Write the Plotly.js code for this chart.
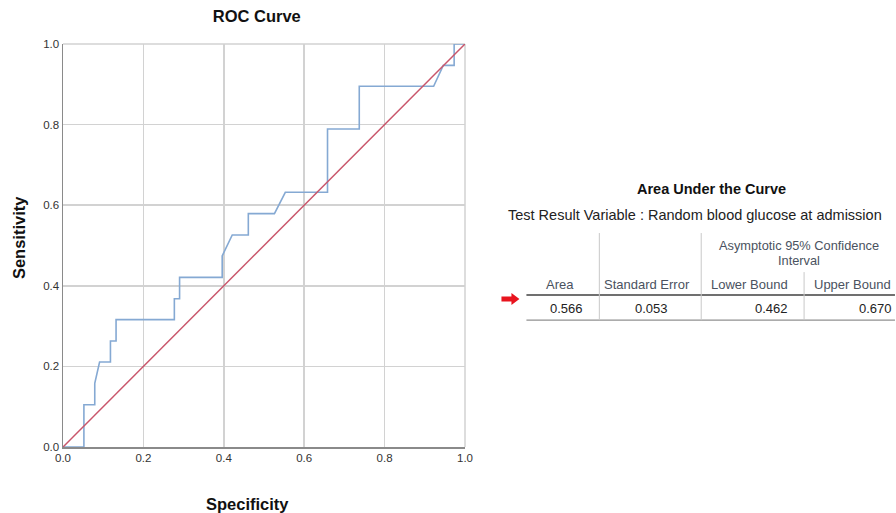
<!DOCTYPE html>
<html>
<head>
<meta charset="utf-8">
<script src="https://cdn.plot.ly/plotly-3.0.1.min.js"></script>
<style>html,body{margin:0;padding:0;background:#fff;}#chart{width:896px;height:513px;}</style>
</head>
<body>
<div id="chart"></div>
<script>
// ROC curve data (specificity axis as labelled, sensitivity)
const specificity = [0, 0.052, 0.052, 0.079, 0.079, 0.091, 0.118, 0.118, 0.132, 0.132, 0.277, 0.277, 0.29, 0.29, 0.396, 0.396, 0.421, 0.461, 0.461, 0.526, 0.553, 0.658, 0.658, 0.737, 0.737, 0.922, 0.946, 0.973, 0.973, 1.0];
const sensitivity = [0, 0, 0.105, 0.105, 0.158, 0.211, 0.211, 0.263, 0.263, 0.316, 0.316, 0.368, 0.368, 0.421, 0.421, 0.474, 0.526, 0.526, 0.579, 0.579, 0.632, 0.632, 0.789, 0.789, 0.895, 0.895, 0.947, 0.947, 1.0, 1.0];
const refX = [0, 1];
const refY = [0, 1];
const tickVals = [0, 0.2, 0.4, 0.6, 0.8, 1.0];
const tickText = ["0.0", "0.2", "0.4", "0.6", "0.8", "1.0"];

// AUC table
const tableTitle = "Area Under the Curve";
const tableSubtitle = "Test Result Variable : Random blood glucose at admission";
const groupHeader = ["Asymptotic 95% Confidence", "Interval"];
const colHeaders = ["Area", "Standard Error", "Lower Bound", "Upper Bound"];
const colValues = ["0.566", "0.053", "0.462", "0.670"];

// pixel -> paper helpers
const L = 63, R = 465.5, T = 44.2, B = 446.7;
const px = x => (x - L) / (R - L);
const py = y => (B - y) / (B - T);

const FONT = "Liberation Sans, Arial, sans-serif";
const annotations = [];
const shapes = [];

// axis titles
annotations.push({text: "<b>Sensitivity</b>", xref: "paper", yref: "paper", x: px(19), y: py(238), textangle: -90, showarrow: false, font: {family: FONT, size: 16.5, color: "#111"}, xanchor: "center", yanchor: "middle"});
annotations.push({text: "<b>Specificity</b>", xref: "paper", yref: "paper", x: px(248), y: py(504), showarrow: false, font: {family: FONT, size: 16.5, color: "#111"}, xanchor: "center", yanchor: "middle"});

// table text
annotations.push({text: "<b>" + tableTitle + "</b>", xref: "paper", yref: "paper", x: px(712), y: py(189), showarrow: false, font: {family: FONT, size: 14.5, color: "#111"}, xanchor: "center", yanchor: "middle"});
annotations.push({text: tableSubtitle, xref: "paper", yref: "paper", x: px(696), y: py(215), showarrow: false, font: {family: FONT, size: 14.5, color: "#222"}, xanchor: "center", yanchor: "middle"});
annotations.push({text: groupHeader[0], xref: "paper", yref: "paper", x: px(800), y: py(245), showarrow: false, font: {family: FONT, size: 12.8, color: "#4a5260"}, xanchor: "center", yanchor: "middle"});
annotations.push({text: groupHeader[1], xref: "paper", yref: "paper", x: px(800), y: py(260), showarrow: false, font: {family: FONT, size: 12.8, color: "#4a5260"}, xanchor: "center", yanchor: "middle"});
const headerX = [561, 648, 750, 853];
colHeaders.forEach((h, i) => {
  annotations.push({text: h, xref: "paper", yref: "paper", x: px(headerX[i]), y: py(284), showarrow: false, font: {family: FONT, size: 13, color: "#4a5260"}, xanchor: "center", yanchor: "middle"});
});
const valX = [586, 652, 791, 895];
const valAnchor = ["right", "center", "right", "right"];
colValues.forEach((v, i) => {
  annotations.push({text: v, xref: "paper", yref: "paper", x: px(valX[i]), y: py(308), showarrow: false, font: {family: FONT, size: 13, color: "#222"}, xanchor: valAnchor[i], yanchor: "middle"});
});

// table lines
shapes.push({type: "line", xref: "paper", yref: "paper", x0: px(527), x1: px(896), y0: py(295), y1: py(295), line: {color: "#707070", width: 2}});
shapes.push({type: "line", xref: "paper", yref: "paper", x0: px(527), x1: px(896), y0: py(320), y1: py(320), line: {color: "#909090", width: 1.2}});
shapes.push({type: "line", xref: "paper", yref: "paper", x0: px(600), x1: px(600), y0: py(233), y1: py(320), line: {color: "#c8c8c8", width: 1}});
shapes.push({type: "line", xref: "paper", yref: "paper", x0: px(702), x1: px(702), y0: py(233), y1: py(320), line: {color: "#c8c8c8", width: 1}});
shapes.push({type: "line", xref: "paper", yref: "paper", x0: px(805), x1: px(805), y0: py(272), y1: py(320), line: {color: "#c8c8c8", width: 1}});
// red arrow
const ap = [[502, 296.5], [512, 296.5], [512, 293], [520, 299], [512, 305], [512, 301.5], [502, 301.5]];
shapes.push({type: "path", xref: "paper", yref: "paper", path: "M" + ap.map(p => px(p[0]) + "," + py(p[1])).join(" L") + " Z", fillcolor: "#e8141e", line: {width: 0}});

// plot border top/right
shapes.push({type: "line", xref: "paper", yref: "paper", x0: 0, x1: 1, y0: 1, y1: 1, line: {color: "#d2d2d2", width: 1.5}, layer: "below"});
shapes.push({type: "line", xref: "paper", yref: "paper", x0: 1, x1: 1, y0: 0, y1: 1, line: {color: "#d2d2d2", width: 1.5}, layer: "below"});

const data = [
  {x: specificity, y: sensitivity, type: "scatter", mode: "lines", line: {color: "#85a9d3", width: 1.6}, hoverinfo: "skip"},
  {x: refX, y: refY, type: "scatter", mode: "lines", line: {color: "#c9566b", width: 1.5}, hoverinfo: "skip"}
];

const axisCommon = {
  range: [0, 1], tickvals: tickVals, ticktext: tickText, showgrid: true, gridcolor: "#d2d2d2", gridwidth: 1.5,
  zeroline: false, showline: true, linecolor: "#8a8a8a", linewidth: 1.5, ticks: "",
  tickfont: {family: FONT, size: 11.5, color: "#333"}, fixedrange: true
};

const layout = {
  width: 896, height: 513,
  margin: {l: 63, r: 430.5, t: 44, b: 66},
  paper_bgcolor: "#fff", plot_bgcolor: "#fff",
  showlegend: false,
  title: {text: "<b>ROC Curve</b>", x: px(257), xanchor: "center", y: 1 - 16 / 513, yanchor: "middle", xref: "paper", font: {family: FONT, size: 16.5, color: "#111"}},
  xaxis: Object.assign({}, axisCommon),
  yaxis: Object.assign({}, axisCommon),
  annotations: annotations,
  shapes: shapes
};

Plotly.newPlot("chart", data, layout, {displayModeBar: false, staticPlot: true});
</script>
</body>
</html>
